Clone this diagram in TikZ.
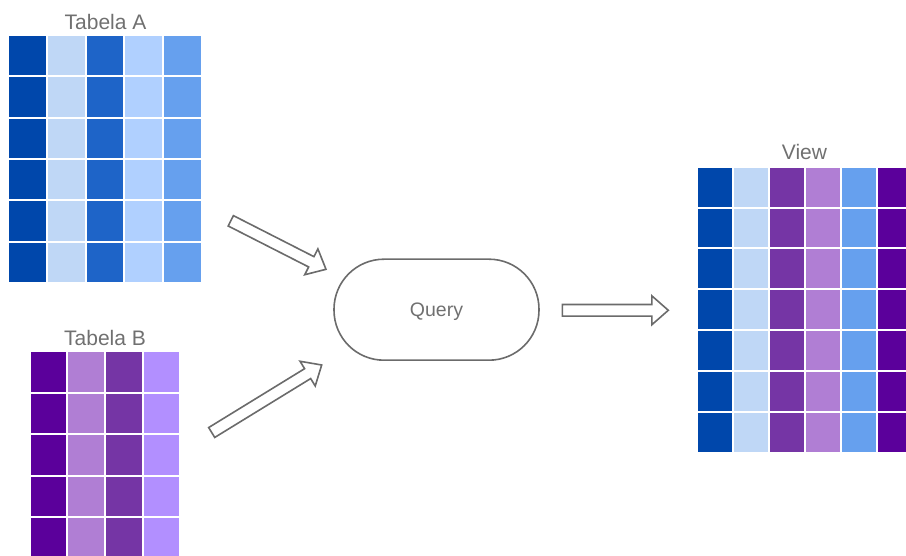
\documentclass[tikz,border=0pt]{standalone}
\usepackage{fontspec}
\setmainfont{Liberation Sans}
\usetikzlibrary{calc}

\definecolor{blueA}{HTML}{0047AB}
\definecolor{blueB}{HTML}{BFD7F6}
\definecolor{blueC}{HTML}{1E64C8}
\definecolor{blueD}{HTML}{B0D0FF}
\definecolor{blueE}{HTML}{66A0EE}
\definecolor{purA}{HTML}{5B009B}
\definecolor{purB}{HTML}{B07ED4}
\definecolor{purC}{HTML}{7535A5}
\definecolor{purD}{HTML}{B28FFF}
\definecolor{labelgray}{HTML}{707070}
\definecolor{linegray}{HTML}{6B6B6B}

\tikzset{
  tablelabel/.style={text=labelgray, font=\fontsize{21}{25}\selectfont, inner sep=0pt, anchor=base},
  querybox/.style={draw=linegray, line width=1.6pt, rounded corners=50pt,
    minimum width=205pt, minimum height=101pt, inner sep=0pt, text depth=0pt,
    text=labelgray, font=\fontsize{19.5}{23}\selectfont},
  hollow/.style={draw=linegray, line width=1.6pt, line join=miter, fill=white},
}

% table of coloured cells: left, top, column pitch, row pitch, rows, column colours
\newcommand\datagrid[6]{%
  \foreach \c [count=\i from 0] in {#6}{%
    \foreach \j in {1,...,#5}{%
      \fill[\c] ({#1+\i*#3},{#2+(\j-1)*#4}) rectangle ++({#3-2},{#4-2});
    }%
  }%
}

% outlined block arrow from a tail coordinate to a tip coordinate
\newcommand\hollowarrow[2]{%
  \path ($(#2)!16.5pt!(#1)$) coordinate (hb);
  \draw[hollow]
    ($(#1)!5.8pt!90:(#2)$) -- ($(hb)!5.8pt!90:(#2)$) -- ($(hb)!14.5pt!90:(#2)$)
    -- (#2)
    -- ($(hb)!14.5pt!-90:(#2)$) -- ($(hb)!5.8pt!-90:(#2)$) -- ($(#1)!5.8pt!-90:(#2)$)
    -- cycle;
}

\begin{document}
\begin{tikzpicture}[x=1pt, y=-1pt]
  \useasboundingbox (0,0) rectangle (906,556);
  \clip (0,0) rectangle (906,556);

  % source tables
  \datagrid{9}{36}{38.8}{41.33}{6}{blueA,blueB,blueC,blueD,blueE}
  \node[tablelabel] (labA) at (105.5,30) {Tabela A};

  \datagrid{30.7}{352.3}{37.65}{41.5}{5}{purA,purB,purC,purD}
  \node[tablelabel] (labB) at (105,345) {Tabela B};

  % resulting view
  \datagrid{697.7}{167.7}{36}{40.9}{7}{blueA,blueB,purC,purB,blueE,purA}
  \node[tablelabel] (labV) at (804.5,159.7) {View};

  % query step
  \node[querybox] (query) at (436.5,309.7) {Query};

  % arrows into and out of the query
  \coordinate (a1s) at (230.8,220.8);
  \coordinate (a1e) at (326,269.3);
  \coordinate (a2s) at (211.7,432.5);
  \coordinate (a2e) at (321.7,365);
  \coordinate (a3s) at (562.3,310.3);
  \coordinate (a3e) at (668.3,310.3);
  \hollowarrow{a1s}{a1e}
  \hollowarrow{a2s}{a2e}
  \hollowarrow{a3s}{a3e}
\end{tikzpicture}
\end{document}
